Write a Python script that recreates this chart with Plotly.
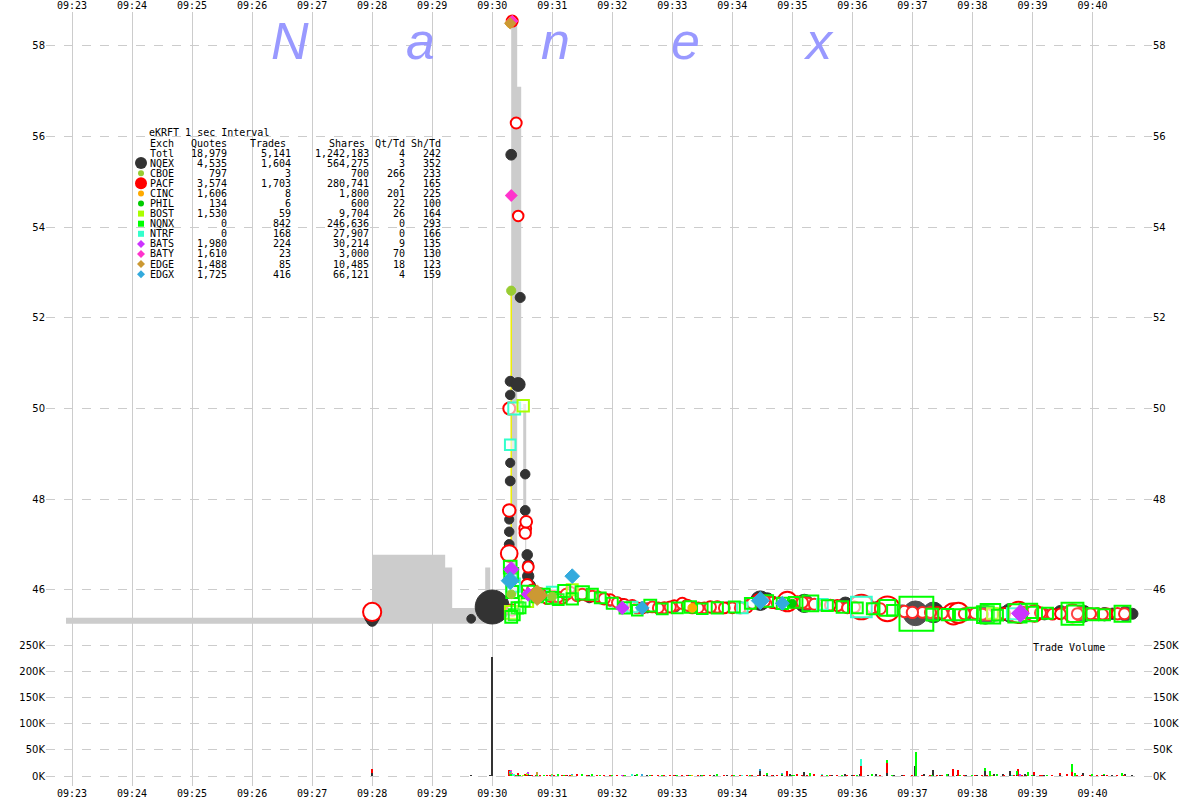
import math
import pandas as pd
import plotly.graph_objects as go

BASE = pd.Timestamp("2013-01-02 09:30:00")

# ---------------- data (seconds relative to 09:30:00, price, shares) ----------------
nqex_sec = [-120, -120, -21, -2, 0, 17, 17, 17, 18, 18,
            18, 18, 18, 19, 26, 28, 33, 33, 35, 36,
            36, 38, 45, 58, 75, 97, 118, 143, 170, 196,
            222, 248, 268, 281, 298, 312, 330, 353, 368, 384,
            395, 410, 423, 441, 456, 474, 493, 511, 518, 533,
            552, 568, 591, 612, 633,
            52, 66, 85, 108, 130, 155, 183, 209, 235, 258,
            275, 290, 305, 322, 340, 360, 376, 402, 432, 448,
            465, 485, 502, 525, 542, 560, 575, 600, 620, 640]
nqex_px = [45.40, 45.31, 45.36, 45.36, 45.62, 47.55, 47.28, 47.00, 50.60, 50.30,
           50.00, 48.80, 48.40, 55.60, 50.53, 52.45, 48.55, 47.75, 46.77, 46.55,
           46.30, 46.10, 45.90, 45.86, 45.92, 45.82, 45.75, 45.62, 45.60, 45.63,
           45.60, 45.62, 45.76, 45.72, 45.74, 45.70, 45.66, 45.68, 45.62, 45.60,
           45.58, 45.55, 45.48, 45.50, 45.47, 45.46, 45.45, 45.47, 45.49, 45.48,
           45.46, 45.50, 45.47, 45.46, 45.47,
           45.88, 45.84, 45.90, 45.80, 45.70, 45.60, 45.62, 45.60, 45.62, 45.70,
           45.78, 45.73, 45.72, 45.68, 45.66, 45.64, 45.60, 45.57, 45.50, 45.48,
           45.47, 45.46, 45.46, 45.47, 45.47, 45.48, 45.48, 45.47, 45.47, 45.47]
nqex_sh = [4000, 800, 200, 200, 228000, 300, 400, 500, 600, 400,
           700, 300, 500, 900, 3000, 600, 400, 500, 800, 900,
           1200, 700, 600, 500, 400, 500, 700, 600, 800, 500,
           600, 700, 10000, 1500, 4000, 8000, 1200, 3500, 2500, 1800,
           5000, 800, 20000, 12000, 2000, 1500, 9000, 3000, 9000, 2500,
           1200, 3000, 6000, 2500, 4000,
           600, 500, 700, 600, 500, 600, 700, 500, 600, 800,
           3000, 2500, 1500, 1000, 900, 1500, 1200, 1000, 2000, 1500,
           1200, 1000, 3000, 1500, 1000, 800, 1500, 1000, 1200, 1000]

pacf_sec = [-120, 17, 17, 17, 20, 20, 24, 26, 33, 33,
            34, 35, 36, 40, 48, 55, 62, 70, 78, 85,
            95, 105, 118, 125, 140, 150, 160, 172, 182, 190,
            200, 212, 225, 240, 255, 266, 280, 290, 295, 305,
            315, 330, 345, 355, 369, 380, 395, 412, 430, 445,
            455, 461, 466, 483, 495, 505, 522, 526, 535, 542,
            550, 560, 575, 580, 590, 605, 615, 625,
            44, 58, 66, 74, 90, 100, 112, 132, 145, 166,
            178, 195, 206, 218, 232, 248, 260, 272, 285, 300,
            310, 322, 338, 362, 388, 420, 438, 450, 472, 490,
            512, 530, 548, 568, 585, 598, 610, 632]
pacf_px = [45.51, 50.00, 47.75, 46.80, 58.55, 45.55, 56.30, 54.25, 47.35, 47.25,
           47.50, 46.10, 46.50, 46.00, 45.90, 45.80, 45.85, 45.82, 45.95, 45.87,
           45.88, 45.85, 45.78, 45.72, 45.65, 45.60, 45.62, 45.60, 45.65, 45.70,
           45.60, 45.60, 45.62, 45.60, 45.62, 45.77, 45.72, 45.68, 45.74, 45.73,
           45.70, 45.66, 45.65, 45.60, 45.62, 45.60, 45.58, 45.52, 45.50, 45.50,
           45.48, 45.47, 45.49, 45.48, 45.45, 45.45, 45.50, 45.50, 45.50, 45.48,
           45.48, 45.46, 45.50, 45.48, 45.48, 45.47, 45.47, 45.47,
           45.92, 45.86, 45.84, 45.90, 45.90, 45.86, 45.80, 45.68, 45.60, 45.60,
           45.62, 45.66, 45.60, 45.62, 45.60, 45.60, 45.70, 45.75, 45.70, 45.72,
           45.72, 45.68, 45.66, 45.62, 45.58, 45.50, 45.50, 45.48, 45.47, 45.46,
           45.47, 45.50, 45.49, 45.47, 45.47, 45.47, 45.46, 45.47]
pacf_sh = [8000, 1500, 2000, 6000, 1000, 1200, 1000, 800, 1500, 1200,
           1400, 1800, 1000, 900, 1500, 800, 1000, 1300, 900, 1100,
           1200, 900, 1000, 800, 1200, 1000, 900, 1100, 800, 1200,
           900, 1000, 1200, 800, 1000, 1600, 1200, 900, 10000, 1200,
           1000, 900, 1100, 800, 20000, 1000, 20000, 1200, 900, 1000,
           1100, 13000, 11000, 1200, 900, 1000, 1100, 13000, 1200, 6000,
           1000, 900, 1200, 8000, 1000, 1100, 900, 1200,
           900, 1000, 800, 1100, 1000, 900, 1200, 800, 1000, 900,
           1100, 1000, 800, 1200, 900, 1000, 1100, 1300, 1000, 900,
           1200, 1000, 900, 1100, 1000, 1200, 1000, 900, 1100, 1000,
           1200, 1300, 1000, 900, 1100, 1000, 900, 1000]

nqnx_sec = [18, 19, 20, 22, 25, 28, 19, 32, 36, 45,
            52, 60, 66, 72, 80, 90, 100, 108, 120, 133,
            145, 158, 170, 185, 198, 210, 225, 242, 258, 275,
            290, 302, 318, 335, 350, 365, 380, 395, 400, 424,
            440, 455, 468, 480, 493, 498, 505, 525, 536, 540,
            555, 580, 583, 600, 612, 630]
nqnx_px = [46.50, 46.33, 45.95, 45.45, 45.60, 45.60, 45.40, 45.75, 45.95, 45.85,
           45.90, 45.82, 45.78, 45.97, 45.80, 45.93, 45.90, 45.82, 45.70, 45.60,
           45.55, 45.65, 45.58, 45.60, 45.62, 45.58, 45.60, 45.62, 45.70, 45.75,
           45.70, 45.72, 45.70, 45.65, 45.62, 45.60, 45.58, 45.60, 45.55, 45.47,
           45.45, 45.45, 45.45, 45.47, 45.45, 45.47, 45.44, 45.48, 45.50, 45.50,
           45.48, 45.47, 45.47, 45.46, 45.45, 45.47]
nqnx_sh = [2000, 3000, 1500, 1000, 1200, 800, 1500, 900, 1800, 1200,
           1000, 1500, 900, 1600, 1200, 2500, 1100, 900, 1000, 1200,
           800, 1500, 900, 1000, 1200, 800, 1100, 1000, 900, 1300,
           1100, 900, 5000, 1000, 1200, 900, 1000, 5000, 800, 46000,
           1500, 1200, 1000, 1500, 6000, 10000, 1000, 8000, 7000, 1200,
           1000, 14000, 6000, 1500, 1000, 5000]

ntrf_sec = [18, 22, 21, 19, 60, 140, 250, 330, 369, 520]
ntrf_px = [49.20, 50.00, 46.10, 46.30, 45.95, 45.62, 45.60, 45.68, 45.62, 45.47]
ntrf_sh = [800, 1500, 2500, 1200, 900, 700, 800, 900, 12000, 1000]

bost_sec = [31, 19, 35, 80, 500]
bost_px = [50.06, 45.50, 45.75, 46.00, 45.48]
bost_sh = [1200, 2000, 1500, 1000, 900]

cboe_sec = [19, 19, 60]
cboe_px = [52.60, 45.90, 45.85]
cboe_sh = [300, 200, 200]

cinc_sec = [18, 200]
cinc_px = [58.50, 45.60]
cinc_sh = [200, 200]

phil_sec = [150, 300]
phil_px = [45.60, 45.70]
phil_sh = [100, 100]

bats_sec = [19, 36, 130, 528]
bats_px = [46.45, 45.90, 45.60, 45.48]
bats_sh = [1500, 900, 700, 3000]

baty_sec = [19, 20]
baty_px = [54.70, 58.55]
baty_sh = [300, 200]

edge_sec = [18, 45]
edge_px = [58.50, 45.88]
edge_sh = [200, 5000]

edgx_sec = [18, 80, 150, 268, 290]
edgx_px = [46.20, 46.30, 45.60, 45.76, 45.70]
edgx_sh = [3000, 1200, 800, 3000, 900]

# NBBO (gray) segments: start sec, end sec, low, high
nbbo_start = [-426, -120, -47, -40, -7, -2, 19, 25, 31, 33]
nbbo_end = [-120, -47, -40, -7, -2, 0, 25, 29, 34, 34]
nbbo_low = [45.25, 45.25, 45.25, 45.25, 45.25, 45.25, 45.90, 50.50, 47.10, 46.20]
nbbo_high = [45.38, 46.77, 46.49, 45.60, 46.49, 45.60, 58.60, 57.10, 50.10, 47.10]

# yellow connecting line
yline_sec = [19, 19]
yline_px = [52.60, 45.90]

# summary table
exch_names = ["NQEX", "CBOE", "PACF", "CINC", "PHIL", "BOST", "NQNX", "NTRF", "BATS", "BATY", "EDGE", "EDGX"]
quotes = [4535, 797, 3574, 1606, 134, 1530, 0, 0, 1980, 1610, 1488, 1725]
trades = [1604, 3, 1703, 8, 6, 59, 842, 168, 224, 23, 85, 416]
shares = [564275, 700, 280741, 1800, 600, 9704, 246636, 27907, 30214, 3000, 10485, 66121]
qt_td = [3, 266, 2, 201, 22, 26, 0, 0, 9, 70, 18, 4]
sh_td = [352, 233, 165, 225, 100, 164, 293, 166, 135, 130, 123, 159]
tot_row = ["Totl", 18979, 5141, 1242183, 4, 242]

price_ticks = [46, 48, 50, 52, 54, 56, 58]
vol_ticks = [0, 50000, 100000, 150000, 200000, 250000]
vol_tick_labels = ["0K", "50K", "100K", "150K", "200K", "250K"]

# ---------------- styling ----------------
STY = {
    "NQEX": dict(symbol="circle", fill="#333333", line="#333333", lw=1, color="#333333"),
    "CBOE": dict(symbol="circle", fill="#99cc33", line="#99cc33", lw=1, color="#99cc33"),
    "PACF": dict(symbol="circle", fill="white", line="#ff0000", lw=2, color="#ff0000"),
    "CINC": dict(symbol="circle", fill="#ffaa00", line="#ffaa00", lw=1, color="#ffaa00"),
    "PHIL": dict(symbol="circle", fill="#00cc00", line="#00cc00", lw=1, color="#00cc00"),
    "BOST": dict(symbol="square", fill="rgba(255,255,255,0.6)", line="#aaff00", lw=2, color="#aaff00"),
    "NQNX": dict(symbol="square", fill="rgba(255,255,255,0.15)", line="#00ff00", lw=2, color="#00ff00"),
    "NTRF": dict(symbol="square", fill="rgba(255,255,255,0.6)", line="#33ffcc", lw=2, color="#33ffcc"),
    "BATS": dict(symbol="diamond", fill="#cc33ff", line="#cc33ff", lw=1, color="#cc33ff"),
    "BATY": dict(symbol="diamond", fill="#ff33cc", line="#ff33cc", lw=1, color="#ff33cc"),
    "EDGE": dict(symbol="diamond", fill="#cc9933", line="#cc9933", lw=1, color="#cc9933"),
    "EDGX": dict(symbol="diamond", fill="#33aadd", line="#33aadd", lw=1, color="#33aadd"),
}

TRADES = {
    "NQEX": (nqex_sec, nqex_px, nqex_sh),
    "PACF": (pacf_sec, pacf_px, pacf_sh),
    "NQNX": (nqnx_sec, nqnx_px, nqnx_sh),
    "NTRF": (ntrf_sec, ntrf_px, ntrf_sh),
    "BOST": (bost_sec, bost_px, bost_sh),
    "CBOE": (cboe_sec, cboe_px, cboe_sh),
    "CINC": (cinc_sec, cinc_px, cinc_sh),
    "PHIL": (phil_sec, phil_px, phil_sh),
    "BATS": (bats_sec, bats_px, bats_sh),
    "BATY": (baty_sec, baty_px, baty_sh),
    "EDGE": (edge_sec, edge_px, edge_sh),
    "EDGX": (edgx_sec, edgx_px, edgx_sh),
}

# geometry (pixels)
L, R, T, B = 46, 1152, 12, 786
W, H = R - L, B - T
X0_PX = 492  # pixel of 09:30:00


def tx(secs):
    return [None if s is None else BASE + pd.Timedelta(seconds=s) for s in secs]


def msize(s):
    return min(34, 7 + math.sqrt(s) / 8)


def xp(px):
    return (px - L) / W


def yp(py):
    return (B - py) / H


fig = go.Figure()

# NBBO gray polygons
poly_x, poly_y = [], []
for s, e, lo, hi in zip(nbbo_start, nbbo_end, nbbo_low, nbbo_high):
    poly_x += [s, e, e, s, s, None]
    poly_y += [lo, lo, hi, hi, lo, None]
fig.add_trace(go.Scatter(x=tx(poly_x), y=poly_y, mode="lines", fill="toself",
                         fillcolor="#cccccc", line=dict(width=0, color="#cccccc"),
                         xaxis="x", yaxis="y", hoverinfo="skip", showlegend=False))

fig.add_trace(go.Scatter(x=tx(yline_sec), y=yline_px, mode="lines",
                         line=dict(color="#eeee00", width=1.5),
                         xaxis="x", yaxis="y", hoverinfo="skip", showlegend=False))

for name in ["NQEX", "PACF", "NTRF", "BOST", "NQNX", "CBOE", "CINC", "PHIL", "BATS", "BATY", "EDGE", "EDGX"]:
    sec, prc, sh = TRADES[name]
    st = STY[name]
    fig.add_trace(go.Scatter(
        x=tx(sec), y=prc, mode="markers",
        marker=dict(symbol=st["symbol"], size=[msize(s) for s in sh], color=st["fill"],
                    opacity=1, line=dict(color=st["line"], width=st["lw"])),
        xaxis="x", yaxis="y", hoverinfo="skip", showlegend=False))

# volume bars
for name in ["NQEX", "PACF", "NQNX", "NTRF", "BOST", "CBOE", "CINC", "PHIL", "BATS", "BATY", "EDGE", "EDGX"]:
    sec, prc, sh = TRADES[name]
    fig.add_trace(go.Bar(x=tx(sec), y=sh, width=1000,
                         marker=dict(color=STY[name]["color"], line=dict(width=0)),
                         xaxis="x2", yaxis="y2", hoverinfo="skip", showlegend=False))

# dummies for right-side axes
fig.add_trace(go.Scatter(x=tx([0]), y=[None], xaxis="x", yaxis="y3", showlegend=False, hoverinfo="skip"))
fig.add_trace(go.Scatter(x=tx([0]), y=[None], xaxis="x2", yaxis="y4", showlegend=False, hoverinfo="skip"))

xr = tx([L - X0_PX, R - X0_PX - 0.5])
grid = "#cccccc"
tickfont_x = dict(family="DejaVu Sans Mono", size=10, color="black")
tickfont_y = dict(family="DejaVu Sans", size=10, color="black")
split = 0.195
p_range = [45.0, 58.75]
v_range = [-19084, 269084]

common_x = dict(type="date", range=xr, dtick=60000, tick0=BASE, tickformat="%H:%M",
                showgrid=True, gridcolor=grid, gridwidth=1, showline=False, zeroline=False,
                ticks="", tickfont=tickfont_x, automargin=False)

common_y = dict(zeroline=False, showline=False, ticks="", tickfont=tickfont_y, automargin=False)

fig.update_layout(
    width=1200, height=800,
    margin=dict(l=L, r=1200 - R, t=T, b=800 - B),
    paper_bgcolor="white", plot_bgcolor="white",
    barmode="stack", showlegend=False,
    xaxis=dict(domain=[0, 1], anchor="y", side="top", **common_x),
    xaxis2=dict(domain=[0, 1], anchor="y2", side="bottom", matches="x", **common_x),
    yaxis=dict(domain=[split, 1], anchor="x", range=p_range, tickvals=price_ticks,
               showgrid=True, gridcolor=grid, griddash="dash", gridwidth=1, **common_y),
    yaxis3=dict(overlaying="y", anchor="x", side="right", range=p_range, tickvals=price_ticks,
                showgrid=False, **common_y),
    yaxis2=dict(domain=[0, split], anchor="x2", range=v_range, tickvals=vol_ticks,
                ticktext=vol_tick_labels, showgrid=True, gridcolor=grid, griddash="dash",
                gridwidth=1, **common_y),
    yaxis4=dict(overlaying="y2", anchor="x2", side="right", range=v_range, tickvals=vol_ticks,
                ticktext=vol_tick_labels, showgrid=False, **common_y),
)

ann = []
mono = dict(family="DejaVu Sans Mono", size=10, color="black")


def text_at(px, py, text, anchor="left", font=mono):
    ann.append(dict(x=xp(px), y=yp(py), xref="paper", yref="paper", text=text,
                    showarrow=False, xanchor=anchor, yanchor="middle", font=font, borderpad=0))


# watermark
wm_font = dict(family="Liberation Sans", size=52, color="#9999ff", style="italic")
for letter, cx in zip(["N", "a", "n", "e", "x"], [290, 420, 555, 685, 818]):
    ann.append(dict(x=xp(cx), y=yp(41), xref="paper", yref="paper", text=letter,
                    showarrow=False, xanchor="center", yanchor="middle", font=wm_font))

# table
text_at(148, 132, "eKRFT 1 sec Interval")
text_at(149, 143, "Exch")
text_at(228, 143, "Quotes", "right")
text_at(287, 143, "Trades", "right")
text_at(366, 143, "Shares", "right")
text_at(406, 143, "Qt/Td", "right")
text_at(442, 143, "Sh/Td", "right")

col_right = [228, 292, 370, 406, 442]
rows = [tot_row] + [[n, q, t, s, a, b] for n, q, t, s, a, b in
                    zip(exch_names, quotes, trades, shares, qt_td, sh_td)]
shapes = []
for i, row in enumerate(rows):
    py = 153 + 10.1 * i
    text_at(149, py, row[0])
    for v, cr in zip(row[1:], col_right):
        text_at(cr, py, f"{v:,}", "right")
    if i > 0:
        st = STY[row[0]]
        big = row[0] in ("NQEX", "PACF")
        r = 6 if big else 3
        base = dict(xref="paper", yref="paper", xsizemode="pixel", ysizemode="pixel",
                    xanchor=xp(141), yanchor=yp(py), fillcolor=st["color"],
                    line=dict(width=0))
        if st["symbol"] == "circle":
            shapes.append(dict(type="circle", x0=-r, x1=r, y0=-r, y1=r, **base))
        elif st["symbol"] == "square":
            shapes.append(dict(type="rect", x0=-3, x1=3, y0=-3, y1=3, **base))
        else:
            shapes.append(dict(type="path", path="M 0 4 L 4 0 L 0 -4 L -4 0 Z", **base))

text_at(1032, 647, "Trade Volume")

fig.update_layout(annotations=ann, shapes=shapes)
fig.write_html("out.html", config={"displayModeBar": False},
               post_script="document.body.style.margin='0';")
